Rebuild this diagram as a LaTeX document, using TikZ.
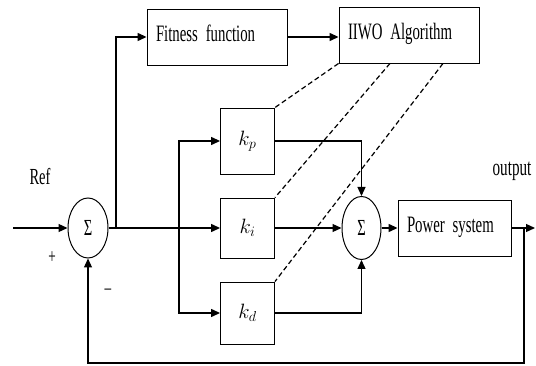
\documentclass[tikz,border=0pt]{standalone}
\usepackage{fontspec}
\setmainfont[FakeStretch=0.63, WordSpace=0.6]{Liberation Serif}
\usetikzlibrary{arrows.meta,shapes.geometric}
\definecolor{pidInk}{HTML}{000000}
\tikzset{
  pid box/.style={draw=pidInk, line width=0.9pt, inner xsep=9pt, text height=16pt, text depth=6pt, align=left, minimum height=56pt, font=\fontsize{23.5}{26}\selectfont},
  pid gain/.style={draw=pidInk, line width=0.9pt, minimum width=54pt, font=\fontsize{20}{24}\selectfont},
  pid sum/.style={ellipse, draw=pidInk, line width=1pt, minimum width=40pt, minimum height=60pt, inner sep=0pt, font=\fontsize{23}{26}\selectfont},
  pid flow/.style={draw=pidInk, line width=1.3pt, -{Triangle[length=9pt,width=8pt]}},
  pid tune/.style={draw=pidInk, line width=1.2pt, dash pattern=on 5pt off 3pt},
  pid label/.style={font=\fontsize{23}{26}\selectfont, inner sep=0pt},
}

\begin{document}
\begin{tikzpicture}[x=1pt, y=-1pt]
  \useasboundingbox (0,0) rectangle (536,366);

  % Blocks
  \node[pid sum] (sumErr) at (88,228) {Σ};
  \node[pid box, text width=122pt] (fitness) at (217,37) {Fitness function};
  \node[pid box, text width=122pt] (iiwo) at (409,35) {IIWO Algorithm};
  \node[pid gain, minimum height=66pt] (kp) at (247.5,141) {$k_p$};
  \node[pid gain, minimum height=60pt] (ki) at (247.5,228) {$k_i$};
  \node[pid gain, minimum height=62pt] (kd) at (247.5,313) {$k_d$};
  \node[pid sum, minimum width=39pt, minimum height=63pt] (sumPid) at (361.5,228) {Σ};
  \node[pid box, text width=95pt] (plant) at (454.5,228) {Power system};

  % Labels
  \node[pid label] (refLbl) at (40,177) {Ref};
  \node[pid label, font=\fontsize{24}{26}\selectfont] (outLbl) at (512,171) {output};
  \node[pid label, font=\fontsize{21}{24}\selectfont] (plusLbl) at (52,258) {+};
  \node[pid label, font=\fontsize{21}{24}\selectfont] (minusLbl) at (108,292) {–};

  % Branch points
  \coordinate (refIn) at (13,228);
  \coordinate (tapFit) at (116,228);
  \coordinate (tapGain) at (179,228);
  \coordinate (tapOut) at (524,228);
  \coordinate (sysOut) at (535,228);
  \coordinate (fbCorner) at (524,363);

  % Signal path
  \draw[pid flow] (refIn) -- (sumErr.west);
  \draw[pid flow] (sumErr.east) -- (ki.west);
  \draw[pid flow] (tapFit) |- (fitness.west);
  \draw[pid flow] (fitness.east) -- (fitness.east -| iiwo.west);
  \draw[pid flow] (tapGain) |- (kp.west);
  \draw[pid flow] (tapGain) |- (kd.west);
  \draw[pid flow] (kp.east) -| (sumPid.north);
  \draw[pid flow] (ki.east) -- (sumPid.west);
  \draw[pid flow] (kd.east) -| (sumPid.south);
  \draw[pid flow] (sumPid.east) -- (plant.west);
  \draw[pid flow] (plant.east) -- (sysOut);
  \draw[pid flow] (tapOut) -- (fbCorner) -| (sumErr.south);

  % Tuning links
  \draw[pid tune] (iiwo.south west) -- (kp.north east);
  \draw[pid tune] ([xshift=-19pt]iiwo.south) -- (ki.north east);
  \draw[pid tune] ([xshift=34pt]iiwo.south) -- (kd.north east);
\end{tikzpicture}
\end{document}
